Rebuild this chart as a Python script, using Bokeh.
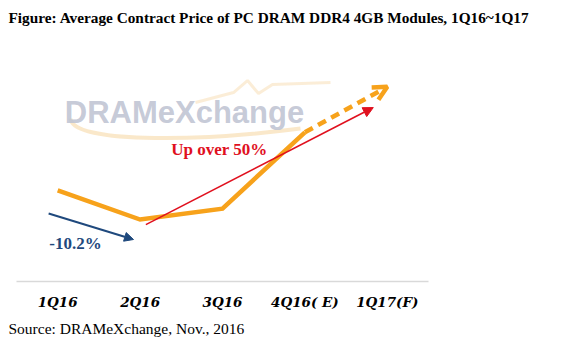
from bokeh.plotting import figure
from bokeh.models import Arrow, OpenHead, NormalHead, Label, Title, Range1d, FixedTicker
from bokeh.embed import file_html
from bokeh.resources import INLINE

# ---- data ----
quarters = ["1Q16", "2Q16", "3Q16", "4Q16( E)", "1Q17(F)"]
xpos = [0, 1, 2, 3, 4]
price = [15.5, 13.9, 14.5, 18.7, 21.2]   # estimated average contract price (US$)

# annotation arrows (data coords)
blue_arrow = dict(x0=-0.11, y0=14.23, x1=0.92, y1=12.80)
red_arrow = dict(x0=1.07, y0=13.62, x1=3.83, y1=20.06)

title_text = "Figure: Average Contract Price of PC DRAM DDR4 4GB Modules, 1Q16~1Q17"
source_text = "Source: DRAMeXchange, Nov., 2016"

ORANGE = "#f7a21b"
NAVY = "#1f497d"
RED = "#e0101e"
SERIF = "Liberation Serif"
SERIF2 = "DejaVu Serif"

p = figure(width=567, height=350, output_backend="svg", toolbar_location=None,
           x_range=Range1d(-0.5, 4.5), y_range=Range1d(10.49, 24.3),
           y_axis_location=None,
           min_border_left=16, min_border_right=139, min_border_top=30, min_border_bottom=69)
p.outline_line_color = None
p.grid.visible = False
p.background_fill_color = "white"
p.border_fill_color = "white"

p.title.text = title_text
p.title.text_font = SERIF
p.title.text_font_size = "15.3px"
p.title.text_font_style = "bold"
p.title.text_color = "black"
p.title.align = "left"
p.title.offset = -8
p.title.standoff = 10

ax = p.xaxis[0]
ax.ticker = FixedTicker(ticks=xpos)
ax.major_label_overrides = {x: q for x, q in zip(xpos, quarters)}
ax.major_label_text_font = SERIF2
ax.major_label_text_font_style = "bold italic"
ax.major_label_text_font_size = "13.5px"
ax.major_label_text_color = "black"
ax.major_label_standoff = 6
ax.axis_line_color = "#d9d9d9"
ax.axis_line_width = 1.5
ax.major_tick_line_color = None
ax.minor_tick_line_color = None

src = Title(text=source_text, align="left", offset=-8, text_font=SERIF,
            text_font_size="15.5px", text_font_style="normal", text_color="black",
            standoff=10)
p.add_layout(src, "below")

# watermark
def px2x(px):
    return (px - 57.2) / 82.4

def py2y(py):
    return 10.49 + (281 - py) / 18.18

p.bezier(x0=[px2x(70)], y0=[py2y(118)], x1=[px2x(300)], y1=[py2y(128)],
         cx0=[px2x(72)], cy0=[py2y(142)], cx1=[px2x(190)], cy1=[py2y(142)],
         line_color="#f3c57a", line_width=4, line_alpha=0.4)
p.line([px2x(v) for v in [195, 233, 247, 258, 272, 330]],
       [py2y(v) for v in [102, 92, 80, 93, 84, 82]],
       line_color="#f3c57a", line_width=3, line_alpha=0.3)
p.add_layout(Label(x=px2x(184), y=py2y(112), text="DRAMeXchange",
                   text_font="Liberation Sans", text_font_style="bold",
                   text_font_size="31px", text_color="#bfc4d3", text_alpha=0.9,
                   text_align="center", text_baseline="middle"))

# main series
p.line(xpos[:4], price[:4], line_color=ORANGE, line_width=4.5, line_join="miter")
p.add_layout(Arrow(end=OpenHead(size=14, line_color=ORANGE, line_width=4.5),
                   x_start=xpos[3], y_start=price[3], x_end=xpos[4], y_end=price[4],
                   line_color=ORANGE, line_width=4.5, line_dash="9 6"))

# trend arrows
p.add_layout(Arrow(end=NormalHead(size=9, fill_color=NAVY, line_color=NAVY),
                   x_start=blue_arrow["x0"], y_start=blue_arrow["y0"],
                   x_end=blue_arrow["x1"], y_end=blue_arrow["y1"],
                   line_color=NAVY, line_width=2))
p.add_layout(Arrow(end=NormalHead(size=10, fill_color=RED, line_color=RED),
                   x_start=red_arrow["x0"], y_start=red_arrow["y0"],
                   x_end=red_arrow["x1"], y_end=red_arrow["y1"],
                   line_color=RED, line_width=1.6))

p.add_layout(Label(x=px2x(75), y=py2y(243), text="-10.2%", text_font=SERIF,
                   text_font_style="bold", text_font_size="17px", text_color=NAVY,
                   text_align="center", text_baseline="middle"))
p.add_layout(Label(x=px2x(219), y=py2y(149), text="Up over 50%", text_font=SERIF,
                   text_font_style="bold", text_font_size="17px", text_color=RED,
                   text_align="center", text_baseline="middle"))

open("out.html", "w").write(file_html(p, INLINE))
